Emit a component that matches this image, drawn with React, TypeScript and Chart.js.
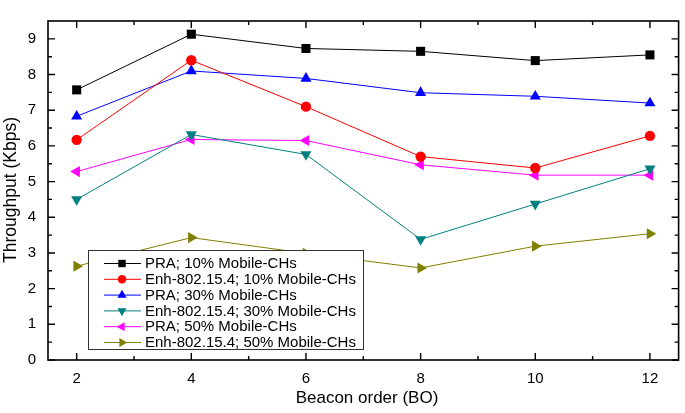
import React, { useEffect, useRef } from 'react';
import { Chart, registerables } from 'chart.js';

Chart.register(...registerables);

const beaconOrders = [2, 4, 6, 8, 10, 12];
const xTickValues = [2, 4, 6, 8, 10, 12];
const yTickValues = [0, 1, 2, 3, 4, 5, 6, 7, 8, 9];

const seriesLabels = [
  'PRA; 10% Mobile-CHs',
  'Enh-802.15.4; 10% Mobile-CHs',
  'PRA; 30% Mobile-CHs',
  'Enh-802.15.4; 30% Mobile-CHs',
  'PRA; 50% Mobile-CHs',
  'Enh-802.15.4; 50% Mobile-CHs',
];

const pra10 = [7.57, 9.13, 8.73, 8.65, 8.39, 8.55];
const enh10 = [6.17, 8.4, 7.1, 5.7, 5.38, 6.28];
const pra30 = [6.83, 8.1, 7.89, 7.49, 7.39, 7.2];
const enh30 = [4.5, 6.32, 5.76, 3.38, 4.37, 5.36];
const pra50 = [5.28, 6.18, 6.15, 5.47, 5.18, 5.18];
const enh50 = [2.63, 3.43, 2.99, 2.58, 3.19, 3.54];

const seriesValues = [pra10, enh10, pra30, enh30, pra50, enh50];

const xTitle = 'Beacon order (BO)';
const yTitle = 'Throughput (Kbps)';

const colors = ['#000000', '#ff0000', '#0000ff', '#008080', '#ff00ff', '#808000'];
const markerStyles = [
  { style: 'rect', rot: 0, r: 6.4 },
  { style: 'circle', rot: 0, r: 5.2 },
  { style: 'triangle', rot: 0, r: 6.4 },
  { style: 'triangle', rot: 180, r: 6.4 },
  { style: 'triangle', rot: 270, r: 6.4 },
  { style: 'triangle', rot: 90, r: 6.4 },
];

const FONT = '"Liberation Sans", Arial, sans-serif';

function drawMarker(ctx: CanvasRenderingContext2D, style: string, rot: number, r: number, x: number, y: number) {
  ctx.beginPath();
  if (style === 'rect') {
    const s = Math.SQRT1_2 * r;
    ctx.rect(x - s, y - s, 2 * s, 2 * s);
  } else if (style === 'circle') {
    ctx.arc(x, y, r, 0, Math.PI * 2);
  } else {
    let rad = (rot * Math.PI) / 180;
    ctx.moveTo(x + Math.sin(rad) * r, y - Math.cos(rad) * r);
    rad += (2 * Math.PI) / 3;
    ctx.lineTo(x + Math.sin(rad) * r, y - Math.cos(rad) * r);
    rad += (2 * Math.PI) / 3;
    ctx.lineTo(x + Math.sin(rad) * r, y - Math.cos(rad) * r);
    ctx.closePath();
  }
  ctx.fill();
}

const framePlugin = {
  id: 'frameAndLegend',
  afterDraw(chart: any) {
    const ctx: CanvasRenderingContext2D = chart.ctx;
    const { left, right, top, bottom } = chart.chartArea;
    const xs = chart.scales.x;
    const ys = chart.scales.y;
    ctx.save();

    // legend
    const bx = 88, by = 250, bw = 275, bh = 99;
    ctx.fillStyle = '#ffffff';
    ctx.fillRect(bx, by, bw, bh);
    ctx.strokeStyle = '#333333';
    ctx.lineWidth = 1;
    ctx.strokeRect(bx + 0.5, by + 0.5, bw, bh);
    ctx.font = `15px ${FONT}`;
    ctx.textBaseline = 'middle';
    ctx.textAlign = 'left';
    chart.data.datasets.forEach((ds: any, i: number) => {
      const cy = 263.5 + i * 15.8;
      ctx.strokeStyle = colors[i];
      ctx.lineWidth = 1;
      ctx.beginPath();
      ctx.moveTo(104, cy);
      ctx.lineTo(141, cy);
      ctx.stroke();
      ctx.fillStyle = colors[i];
      const m = markerStyles[i];
      drawMarker(ctx, m.style, m.rot, m.r * 0.82, 122, cy);
      ctx.fillStyle = '#000000';
      ctx.fillText(ds.label, 145, cy + 0.5);
    });

    // frame
    ctx.strokeStyle = '#000000';
    ctx.lineWidth = 1.6;
    ctx.strokeRect(left, top, right - left, bottom - top);

    // ticks
    ctx.lineWidth = 1.4;
    ctx.beginPath();
    const xMaj = xs.ticks.map((t: any) => t.value);
    xMaj.forEach((v: number) => {
      const px = xs.getPixelForValue(v);
      ctx.moveTo(px, bottom); ctx.lineTo(px, bottom - 7);
      ctx.moveTo(px, top); ctx.lineTo(px, top + 7);
      const pm = xs.getPixelForValue(v + 1);
      if (v + 1 < xs.max) {
        ctx.moveTo(pm, bottom); ctx.lineTo(pm, bottom - 4);
        ctx.moveTo(pm, top); ctx.lineTo(pm, top + 4);
      }
    });
    const yMaj = ys.ticks.map((t: any) => t.value);
    yMaj.forEach((v: number) => {
      const py = ys.getPixelForValue(v);
      ctx.moveTo(left, py); ctx.lineTo(left + 7, py);
      ctx.moveTo(right, py); ctx.lineTo(right - 7, py);
      const hv = v + 0.5;
      if (hv < ys.max) {
        const pm = ys.getPixelForValue(hv);
        ctx.moveTo(left, pm); ctx.lineTo(left + 4, pm);
        ctx.moveTo(right, pm); ctx.lineTo(right - 4, pm);
      }
    });
    ctx.stroke();

    // titles
    ctx.fillStyle = '#000000';
    ctx.textAlign = 'center';
    ctx.textBaseline = 'middle';
    ctx.font = `17px ${FONT}`;
    ctx.fillText(xTitle, 367, 398);
    ctx.save();
    ctx.translate(11, 190);
    ctx.rotate(-Math.PI / 2);
    ctx.font = `17.5px ${FONT}`;
    ctx.fillText(yTitle, 0, 0);
    ctx.restore();

    ctx.restore();
  },
};

export default function App() {
  const ref = useRef<HTMLCanvasElement>(null);
  useEffect(() => {
    if (!ref.current) return;
    const datasets = seriesValues.map((vals, i) => ({
      label: seriesLabels[i],
      data: vals.map((y, j) => ({ x: beaconOrders[j], y })),
      borderColor: colors[i],
      backgroundColor: colors[i],
      borderWidth: 1,
      pointStyle: markerStyles[i].style,
      rotation: markerStyles[i].rot,
      pointRadius: markerStyles[i].r,
      pointBorderWidth: 0,
      pointBackgroundColor: colors[i],
      pointBorderColor: colors[i],
      showLine: true,
      tension: 0,
      clip: false,
    }));
    const chart = new Chart(ref.current, {
      type: 'line',
      data: { datasets },
      options: {
        animation: false,
        responsive: false,
        devicePixelRatio: 1,
        layout: { padding: { top: 1, right: 2, left: 0, bottom: 0 } },
        plugins: { legend: { display: false }, tooltip: { enabled: false } },
        scales: {
          x: {
            type: 'linear',
            min: 1.5,
            max: 12.5,
            afterBuildTicks: (s: any) => {
              s.ticks = xTickValues.map((v) => ({ value: v }));
            },
            afterFit: (s: any) => {
              s.height = 53;
            },
            grid: { display: false, drawTicks: false },
            border: { display: false },
            ticks: { color: '#000', font: { family: FONT, size: 15 }, padding: 10, maxRotation: 0 },
          },
          y: {
            type: 'linear',
            min: 0,
            max: 9.5,
            afterBuildTicks: (s: any) => {
              s.ticks = yTickValues.map((v) => ({ value: v }));
            },
            afterFit: (s: any) => {
              s.width = 48;
            },
            grid: { display: false, drawTicks: false },
            border: { display: false },
            ticks: { color: '#000', font: { family: FONT, size: 15 }, padding: 12 },
          },
        },
      } as any,
      plugins: [framePlugin],
    });
    return () => chart.destroy();
  }, []);
  return (
    <div style={{ position: 'absolute', left: 0, top: 0, width: 685, height: 413, background: '#fff' }}>
      <canvas ref={ref} width={685} height={413} style={{ display: 'block' }} />
    </div>
  );
}
